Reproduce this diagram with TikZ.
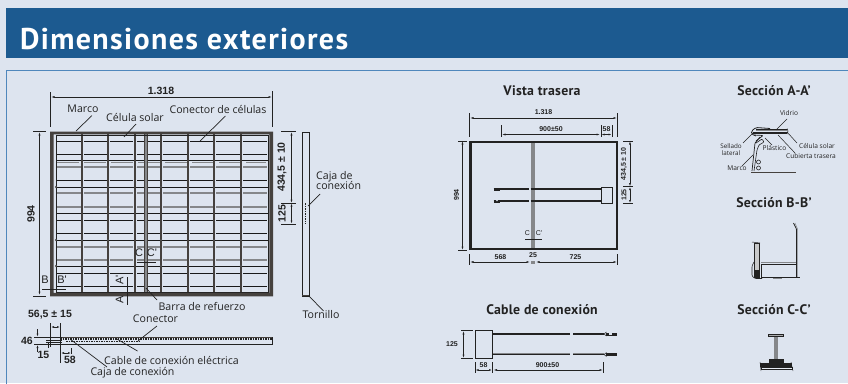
\documentclass[tikz,border=0pt]{standalone}
\usepackage{fontspec}
\setmainfont{Open Sans}
\newfontfamily\dimf{Liberation Sans}
\newfontfamily\headf[LetterSpace=4.5]{PT Sans}
\newfontfamily\headg[LetterSpace=2]{PT Sans}
\usetikzlibrary{arrows.meta}
\definecolor{pagebg}{HTML}{DDE4EF}
\definecolor{headbg}{HTML}{1C5A90}
\definecolor{framec}{HTML}{4F87BC}
\definecolor{ink}{HTML}{222222}
\definecolor{frm}{HTML}{45413E}
\definecolor{gr}{HTML}{85878A}
\tikzset{
 lab/.style={font=\fontsize{10.6}{12}\selectfont,text=ink,inner sep=0pt,align=left},
 smalllab/.style={font=\fontsize{6.6}{7}\selectfont,text=ink,inner sep=0pt,align=center},
 dimm/.style={font=\dimf\bfseries\fontsize{10.5}{12}\selectfont,text=ink,inner sep=0pt},
 dimb/.style={font=\dimf\bfseries\fontsize{7}{8}\selectfont,text=ink,inner sep=0pt},
 seclab/.style={font=\dimf\fontsize{11}{12}\selectfont,text=ink,inner sep=0pt},
 head/.style={font=\headg\bfseries\fontsize{13.8}{15}\selectfont,text=ink,inner sep=0pt},
 thin1/.style={draw=ink,line width=.7pt},
 leader/.style={draw=ink,line width=.7pt},
 tiny1/.style={draw=ink,line width=.5pt},
 dimline/.style={draw=ink,line width=.6pt,{Latex[length=3.5pt,width=2pt]}-{Latex[length=3.5pt,width=2pt]}},
 dims/.style={draw=ink,line width=.6pt,{Latex[length=3pt,width=2pt]}-{Latex[length=3pt,width=2pt]}},
 dotted1/.style={draw=ink,line width=1.2pt,dash pattern=on 1.5pt off 1pt},
 dotted2/.style={draw=ink,line width=.7pt,dash pattern=on 1.5pt off 1pt},
 cellb/.style={draw=black!90,line width=.95pt},
 cellg/.style={draw=gr,line width=1.1pt},
 grid1/.style={draw=frm,line width=1.2pt},
}
\begin{document}
\begin{tikzpicture}[x=1pt,y=-1pt]
\useasboundingbox (0,0) rectangle (848,383);
\fill[pagebg] (0,0) rectangle (848,383);
\fill[headbg] (6,8) rectangle (848,58);
\node[anchor=base west,inner sep=0pt,text=white,font=\headf\bfseries\fontsize{30}{32}\selectfont] (title) at (20,49) {Dimensiones exteriores};
\draw[framec,line width=.9pt] (6.5,383.5) -- (6.5,70.5) -- (848,70.5);
% ---- main panel
\foreach \y in {141,154,180,220,233,273,286}
 \foreach \a/\b in {57/80.5,84/106.5,110/133,137/159.5,163/186.5,190/212.5,216/239.5,243/266.5}
  \draw[cellb] (\a,\y) -- (\b,\y);
\foreach \y in {167,193,207,247,260}
 \foreach \a/\b in {57/80.5,84/106.5,110/133,137/159.5,163/186.5,190/212.5,216/239.5,243/266.5}
  \draw[cellg] (\a,\y) -- (\b,\y);
\draw[gr,line width=.9pt,dash pattern=on 22pt off 5pt] (57,162) -- (266,162);
\foreach \y in {160,187,213,240,266} \draw[cellb] (56,\y) -- (268,\y);
\foreach \x in {82,108,135,161,188,214,241} \draw[grid1] (\x,134) -- (\x,292);
\draw[gr,line width=3.4pt] (145.5,134) -- (145.5,292);
\draw[frm,line width=.5pt] (143.8,134) -- (143.8,292) (147.2,134) -- (147.2,292);
\draw[ink,line width=.6pt] (56,135) rectangle (268,292);
\foreach \y in {187,240,266} \foreach \x in {56,82,108,161,214,241}
  \fill[white,draw=ink,line width=.3pt] (\x,\y) circle (.9pt);
\fill[frm] (50,131.5) rectangle (273,134.3) (50,131.5) rectangle (53.6,296.3) (50,292.8) rectangle (273,296.3) (269.4,131.5) rectangle (273,296.3);
% dims main
\draw[thin1] (50.5,92) -- (50.5,127) (272.5,91) -- (272.5,127);
\draw[dimline] (51,97) -- (272,97);
\node[dimm] (n1318) at (161,90.5) {1.318};
\node[dimm,rotate=90] (n994) at (31,214) {994};
\draw[dimline] (39.5,132) -- (39.5,295);
\draw[thin1] (33,131.5) -- (46,131.5) (33,296) -- (46,296);
\node[lab] (marco) at (83,109) {Marco};
\node[lab] (celula) at (135,117) {Célula solar};
\node[lab] (conector) at (218,109) {Conector de células};
\coordinate (m1) at (76,131); \coordinate (m2) at (124,137); \coordinate (m3) at (200,141);
\draw[leader] (92,115.5) -- (m1);
\draw[leader] (136,124) -- (m2);
\draw[leader] (225.5,116) -- (m3);
% side view
\draw[thin1] (302,132) rectangle (309.5,296);
\draw[dotted1] (302.8,132) -- (302.8,296);
\draw[ink,line width=1pt] (302,132) -- (309,132);
\draw[dotted2] (305.5,203) -- (305.5,224);
\draw[frm,line width=1.6pt] (302,295.5) -- (309,295.5);
\draw[thin1] (281,131.5) -- (296,131.5) (281,203) -- (296,203) (281,224) -- (296,224);
\draw[dimline] (291.5,132) -- (291.5,203);
\draw[dims] (291.5,203.5) -- (291.5,223.5);
\node[dimm,rotate=90] (n434) at (282,167) {434,5 ± 10};
\node[dimm,rotate=90] (n125) at (282,213.5) {125};
\node[lab] (caja) at (316,182) [anchor=west] {\begin{tabular}{@{}l@{}}Caja de\\[-1.5pt]conexión\end{tabular}};
\coordinate (cj) at (308,206);
\draw[leader] (320,194) -- (cj);
\node[lab] (torn) at (321,315) {Tornillo};
\coordinate (tp) at (309,296);
\draw[leader] (tp) -- (323.5,311);
% section marks on panel
\node[seclab] (B) at (45,280) {B};
\node[seclab] (Bp) at (62,280) {B'};
\draw[thin1] (42,289) -- (66,289);
\node[seclab,rotate=90] (A) at (119.5,300) {A};
\node[seclab,rotate=90] (Ap) at (119.5,280) {A'};
\draw[thin1] (127.5,277) -- (127.5,304.5);
\node[seclab] (C) at (139,253) {C};
\node[seclab] (Cp) at (152,253) {C'};
\draw[thin1] (136.5,262) -- (156,262);
\node[lab] (barra) at (202,306) {Barra de refuerzo};
\coordinate (bb) at (146,288);
\draw[leader] (bb) -- (157,300);
% bottom view
\draw[thin1] (60,337) rectangle (272.5,344.5);
\draw[dotted1] (60,338.9) -- (272,338.9);
\draw[frm,line width=1pt] (60,337) -- (272,337);
\draw[dotted2] (66,341) -- (140,341);
\draw[thin1] (34,337) -- (62,337) (34,344.5) -- (62,344.5);
\draw[thin1] (46,340) -- (62,340) (46,342) -- (62,342);
\draw[-{Latex[length=3pt,width=2pt]},ink,line width=.5pt] (37.5,329) -- (37.5,336.5);
\draw[-{Latex[length=3pt,width=2pt]},ink,line width=.5pt] (37.5,352) -- (37.5,345);
\node[dimm] (n46) at (27,340.5) {46};
\node[dimm] (n565) at (50,315) {56,5 ± 15};
\node[dimm] (n15) at (43.5,355) {15};
\node[dimm] (n58) at (70,360) {58};
\draw[thin1] (50.5,323) -- (50.5,347) (60.5,323) -- (60.5,362.5) (48,342) -- (48,348) (71.5,348) -- (71.5,354);
\draw[dims] (51,327) -- (60,327);
\draw[dims] (61,353) -- (71,353);
\node[lab] (conn) at (155.5,319) {Conector};
\coordinate (cn) at (138,341);
\draw[leader] (157,326) -- (cn);
\node[lab] (cable) at (239,360) [anchor=east] {Cable de conexión eléctrica};
\coordinate (cb) at (117,339);
\draw[leader] (137.5,351) -- (cb);
\node[lab] (caja2) at (132.5,373) {Caja de conexión};
\coordinate (c2) at (70,339);
\draw[leader] (107,367) -- (c2);
% ---- Vista trasera
\node[head] (vt) at (542,91) {Vista trasera};
\draw[gr,line width=3.2pt] (533,141) -- (533,249);
\draw[ink,line width=2.6pt] (470.5,142) rectangle (617,249);
\draw[thin1] (469.5,113) -- (469.5,137) (617.5,113) -- (617.5,137) (501,125) -- (501,137) (601,125) -- (601,137) (612,125) -- (612,137);
\draw[dimline] (470,118) -- (617,118);
\node[dimb] (a1318) at (543.5,112) {1.318};
\draw[dimline] (502,134.5) -- (600,134.5);
\draw[dims] (601.5,134.5) -- (611.5,134.5);
\node[dimb] (a900) at (551,129.5) {900±50};
\node[dimb] (a58) at (606.5,129.5) {58};
\draw[thin1] (458,141) -- (467,141) (458,250) -- (467,250);
\draw[dimline] (462.5,141) -- (462.5,250);
\node[dimb,rotate=90] (a994) at (456.5,195) {994};
\draw[thin1] (623,141) -- (633,141) (623,186.5) -- (633,186.5) (623,203) -- (633,203);
\draw[dimline] (630,141) -- (630,186.5);
\draw[dims] (630,187) -- (630,203);
\node[dimb,rotate=90] (a434) at (624,164) {434,5 ± 10};
\node[dimb,rotate=90] (a125) at (624,195) {125};
\draw[ink,line width=.7pt,fill=pagebg] (601,187) rectangle (612,203);
\draw[ink,line width=1.6pt] (499,189) -- (529,189) (530.5,189) -- (601,189);
\draw[ink,line width=1.6pt] (499,201) -- (529,201) (530.5,201) -- (601,201);
\draw[ink,line width=3pt] (493.5,189) -- (500,189);
\draw[ink,line width=3pt] (493.5,201) -- (500,201);
\fill[pagebg] (497,200.5) circle (.9pt);
\node[dimb,font=\dimf\fontsize{7}{8}\selectfont] (vc) at (527.5,233.5) {C};
\node[dimb,font=\dimf\fontsize{7}{8}\selectfont] (vcp) at (539,233.5) {C'};
\draw[thin1] (525,239.5) -- (541.5,239.5);
\draw[thin1] (469.5,254) -- (469.5,265) (617.5,254) -- (617.5,265);
\draw[dimline] (470,262) -- (530,262);
\draw[dimline] (536,262) -- (617,262);
\draw[gr,line width=3pt] (531,262) -- (535,262);
\node[dimb] (a568) at (500.5,257.5) {568};
\node[dimb] (a25) at (533,255.5) {25};
\node[dimb] (a725) at (575.5,257.5) {725};
% ---- Cable
\node[head] (ct) at (542,310) {Cable de conexión};
\draw[ink,line width=.7pt] (475,330.5) rectangle (492.5,358);
\draw[ink,line width=1.7pt] (493,334) -- (570,334) (573,334) -- (604,334);
\draw[ink,line width=2pt] (493,354) -- (570,354) (573,354) -- (604,354);
\draw[gr,line width=1.1pt] (493,353.8) -- (570,353.8) (573,353.8) -- (604,353.8);
\draw[ink,line width=3pt] (606,334) -- (616.5,334);
\draw[ink,line width=3pt] (606,354.5) -- (616.5,354.5);
\draw[ink,line width=.5pt] (604,334) -- (606.5,332) (604,334) -- (606.5,336) (604,354.5) -- (606.5,352.5) (604,354.5) -- (606.5,356.5);
\fill[pagebg] (609,333) rectangle (612,334.5);
\draw[thin1] (461,330.5) -- (473,330.5) (461,358) -- (473,358);
\draw[dimline] (463.5,331) -- (463.5,358);
\node[dimb] (c125) at (452,344) {125};
\draw[thin1] (475,362) -- (475,373) (492.5,362) -- (492.5,373) (603.5,362) -- (603.5,373);
\draw[dims] (475.5,370) -- (492,370);
\draw[dimline] (493.5,370) -- (603,370);
\node[dimb] (c58) at (483.5,365) {58};
\node[dimb] (c900) at (547.5,365) {900±50};
% ---- Seccion A
\node[head] (sa) at (774,91) {Sección A-A’};
\node[smalllab] (vidrio) at (789,113) {Vidrio};
\node[smalllab] (cs) at (817,146) {Célula solar};
\node[smalllab] (pl) at (774.5,148.5) {Plástico};
\node[smalllab] (cu) at (811,156.5) {Cubierta trasera};
\node[smalllab,font=\fontsize{6.3}{6.5}\selectfont] (se) at (731,149.5) {Sellado\\lateral};
\node[smalllab] (ma) at (737,168) {Marco};
\draw[ink,line width=.8pt,rounded corners=1.5pt] (770,128.5) -- (756,127.5) -- (751.5,131) -- (751.5,134) -- (756,136);
\draw[gr,line width=2.2pt] (756,130) -- (787,130);
\draw[ink,line width=.5pt] (756,128.8) -- (787,128.8);
\draw[ink,line width=2.2pt] (753,132.7) -- (787,132.7);
\draw[ink,line width=.5pt] (787,128.5) -- (788,131) -- (787,134);
\draw[ink,line width=.7pt,rounded corners=.8pt] (754,135) -- (763,135.5) -- (756,141);
\draw[ink,line width=.7pt,rounded corners=.8pt] (760,137) -- (755,143) -- (752,171);
\draw[ink,line width=.6pt,rounded corners=.8pt] (756,143) -- (762,139) -- (764,142) -- (759,145) -- (757,150) -- (754,171);
\draw[ink,line width=.6pt] (758.5,162) circle (2pt) (758.5,168) circle (2pt);
\draw[frm,line width=1.4pt] (751,172.5) -- (796,172.5);
\draw[tiny1] (787,119) -- (776,130);
\draw[tiny1] (797,143) -- (787,132);
\draw[tiny1] (772,145) -- (765,138);
\draw[tiny1] (795,153) -- (778,135);
\draw[tiny1] (743,143) -- (753,133);
\draw[tiny1] (742,166) -- (753,155);
% ---- Seccion B
\node[head] (sb) at (774,203) {Sección B-B’};
\draw[ink,line width=.8pt,rounded corners=.8pt] (793.5,223) -- (796.5,229) -- (796.5,277);
\draw[gr,line width=.5pt] (795,223) -- (797.5,229) -- (797.5,277);
\draw[ink,line width=.8pt] (761,277.5) -- (800,277.5);
\draw[gr,line width=1.2pt] (773,278.5) -- (782,278.5);
\draw[gr,line width=1.5pt] (761,262.5) -- (796,262.5);
\draw[ink,line width=.5pt] (761,264) -- (796,264);
\draw[ink,line width=.7pt] (761,264) -- (761,277);
\draw[ink,line width=.6pt,fill=gr!45] (754,243) rectangle (759,277);
\fill[ink] (754,270) rectangle (759,277);
\draw[ink,line width=.6pt,rounded corners=1pt] (754,262) -- (752,266) -- (752,276) -- (755,278.5) -- (762,278.5);
\draw[ink,line width=.5pt] (752,242) -- (760,243);
% ---- Seccion C
\node[head] (sc) at (774,310) {Sección C-C’};
\draw[ink,line width=.5pt,fill=gr!70] (768.5,334.5) rectangle (783,336.5);
\draw[gr,line width=3.2pt] (776,336.5) -- (776,359);
\fill[ink] (768.5,359) rectangle (783.5,363);
\fill[ink] (760,363) rectangle (792,367);
\draw[ink,line width=.7pt,fill=pagebg!70!white] (761,367) rectangle (792,369);
\draw[ink,line width=.4pt] (760,362) -- (761,371) (791,362) -- (793,371);
\end{tikzpicture}
\end{document}
